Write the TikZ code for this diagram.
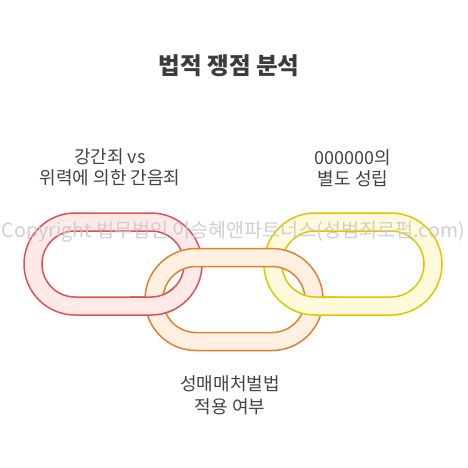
\documentclass[tikz,border=0pt]{standalone}
\usepackage{fontspec}
\setmainfont{Noto Sans CJK KR}
\definecolor{redS}{HTML}{E05252}
\definecolor{redF}{HTML}{FFE9E9}
\definecolor{orgS}{HTML}{E0822E}
\definecolor{orgF}{HTML}{FFF0E2}
\definecolor{yelS}{HTML}{DEC600}
\definecolor{yelF}{HTML}{FFFADC}
\definecolor{txt}{HTML}{424242}
\definecolor{wm}{HTML}{C8C8C8}
% capsule outline: centre (#1,#2), half straight length #3, radius #4
\newcommand\capsule[4]{(#1-#3,#2-#4) -- (#1+#3,#2-#4) arc[start angle=-90,end angle=90,radius=#4] -- (#1-#3,#2+#4) arc[start angle=90,end angle=270,radius=#4] -- cycle}
\newcommand\chainlink[4]{%
  \fill[#4, even odd rule] \capsule{#1}{#2}{38}{51} \capsule{#1}{#2}{38}{33};
  \draw[#3, line width=1.5] \capsule{#1}{#2}{38}{51};
  \draw[#3, line width=1.5] \capsule{#1}{#2}{38}{33};
}
\tikzset{
  label/.style={text=txt, align=center, inner sep=0pt, font=\fontsize{18}{21}\selectfont},
  title/.style={text=txt!90!black, inner sep=0pt, font=\fontsize{23.5}{27}\selectfont\bfseries}
}
\begin{document}
\begin{tikzpicture}[x=1pt,y=-1pt]
\useasboundingbox[fill=white] (0,0) rectangle (468,468);
% links
\chainlink{113}{264}{redS}{redF}
\chainlink{353}{264}{yelS}{yelF}
\chainlink{234}{299.5}{orgS}{orgF}
\begin{scope}
  \clip (130,285) rectangle (175,326);
  \chainlink{113}{264}{redS}{redF}
\end{scope}
\begin{scope}
  \clip (292,285) rectangle (338,326);
  \chainlink{353}{264}{yelS}{yelF}
\end{scope}
% texts
\node[title] (t) at (229,66) {법적 쟁점 분석};
\node[label] (l1) at (110,167) {강간죄 vs\\위력에 의한 간음죄};
\node[label] (l2) at (353,168) {000000의\\별도 성립};
\node[label, font=\fontsize{18}{23}\selectfont] (l3) at (230,395) {성매매처벌법\\적용 여부};
\node[text=wm, opacity=0.85, inner sep=0pt] (w) at (233.5,232) {\resizebox{463pt}{!}{\fontsize{20}{24}\selectfont Copyright 법무법인 이승혜앤파트너스(성범죄로펌.com)}};
\end{tikzpicture}
\end{document}
